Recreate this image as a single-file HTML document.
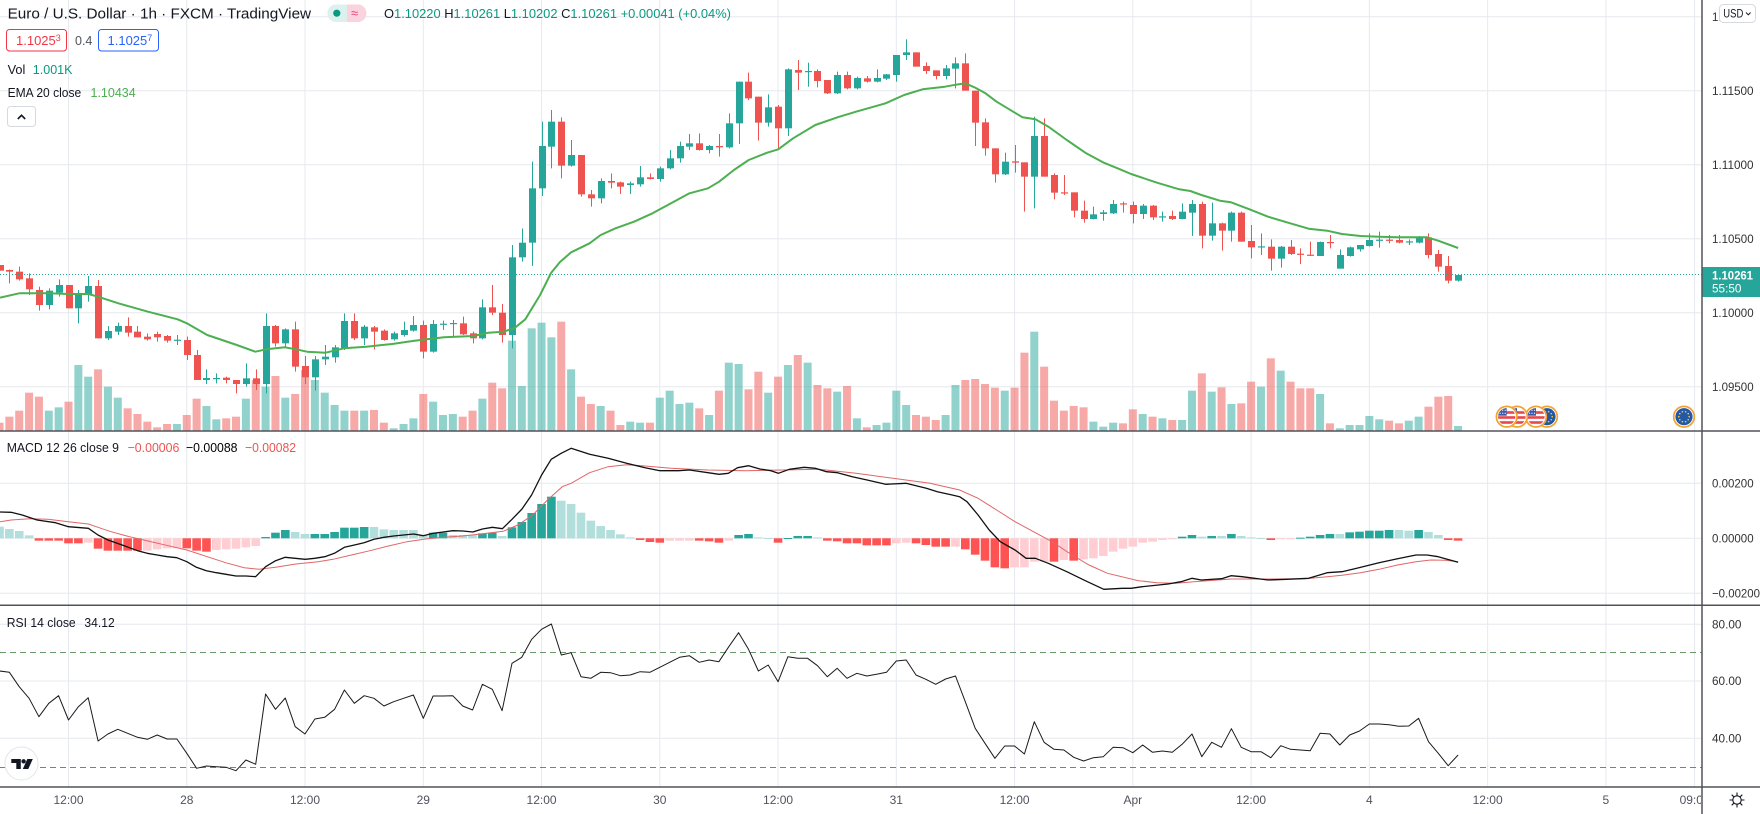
<!DOCTYPE html>
<html><head><meta charset="utf-8"><title>EURUSD 1h</title>
<style>
html,body{margin:0;padding:0;background:#fff}
body{width:1760px;height:814px;overflow:hidden}
svg{display:block}
text{font-family:"Liberation Sans",Arial,sans-serif}
</style></head><body>
<svg id="s" xmlns="http://www.w3.org/2000/svg" width="1760" height="814" viewBox="0 0 1760 814">
<defs>
<clipPath id="cp"><rect x="0" y="0" width="1702" height="430.5"/></clipPath>
<clipPath id="cm"><rect x="0" y="432" width="1702" height="172.5"/></clipPath>
<clipPath id="cr"><rect x="0" y="606" width="1702" height="180"/></clipPath>
<clipPath id="ct"><rect x="0" y="788" width="1701" height="26"/></clipPath>
<clipPath id="fc"><circle cx="0" cy="0" r="8.6"/></clipPath>
</defs>
<rect width="1760" height="814" fill="#fff"/>
<g id="grid" stroke="#e6e9ee" stroke-width="1"></g>
<g id="vol" clip-path="url(#cp)"></g>
<g id="cdl" clip-path="url(#cp)"></g>
<g id="ema" clip-path="url(#cp)"></g>
<line x1="0" y1="274.5" x2="1702" y2="274.5" stroke="#26a69a" stroke-width="1" stroke-dasharray="1 2"/>
<g id="ev"></g>
<g id="hist" clip-path="url(#cm)"></g>
<g id="macd" clip-path="url(#cm)"></g>
<line x1="0" y1="652.5" x2="1702" y2="652.5" stroke="#6a9a6a" stroke-width="1" stroke-dasharray="6 4"/>
<line x1="0" y1="767.5" x2="1702" y2="767.5" stroke="#c46060" stroke-width="1" stroke-dasharray="6 4"/>
<g id="rsi" clip-path="url(#cr)"></g>

<!-- TV logo -->
<g>
<circle cx="21.5" cy="763.5" r="16.5" fill="#fff" stroke="#e3e5ea" stroke-width="1"/>
<path d="M11.3 759 H20.8 V769 H16.3 V763 H11.3 Z" fill="#131722"/>
<circle cx="23.6" cy="761.3" r="2.2" fill="#131722"/>
<path d="M27.3 759 H32.8 L28.3 769 H22.8 Z" fill="#131722"/>
</g>

<!-- Top legend -->
<text x="7.6" y="18.5" font-size="15" fill="#131722" textLength="303.5" lengthAdjust="spacingAndGlyphs">Euro / U.S. Dollar · 1h · FXCM · TradingView</text>
<rect x="327.4" y="4.5" width="39" height="17.5" rx="8.7" fill="#dcf1ed"/>
<path d="M347 4.5 H357.7 A8.7 8.7 0 0 1 357.7 22 H347 Z" fill="#fbd3df"/>
<circle cx="336.8" cy="13.2" r="3.6" fill="#089981"/>
<text x="351" y="17.5" font-size="13" fill="#e0457b">≈</text>
<text x="384" y="18" font-size="13" textLength="347" lengthAdjust="spacingAndGlyphs"><tspan fill="#131722">O</tspan><tspan fill="#089981">1.10220</tspan><tspan fill="#131722"> H</tspan><tspan fill="#089981">1.10261</tspan><tspan fill="#131722"> L</tspan><tspan fill="#089981">1.10202</tspan><tspan fill="#131722"> C</tspan><tspan fill="#089981">1.10261 +0.00041 (+0.04%)</tspan></text>

<rect x="6.5" y="29.5" width="60" height="21.5" rx="3" fill="#fff" stroke="#f23645" stroke-width="1"/>
<text x="16" y="45" font-size="13" fill="#f23645">1.1025<tspan font-size="9" dy="-4">3</tspan></text>
<text x="75" y="45" font-size="12.5" fill="#50535e">0.4</text>
<rect x="98.5" y="29.5" width="60" height="21.5" rx="3" fill="#fff" stroke="#2962ff" stroke-width="1"/>
<text x="107.5" y="45" font-size="13" fill="#2962ff">1.1025<tspan font-size="9" dy="-4">7</tspan></text>

<text x="7.6" y="73.8" font-size="13" fill="#131722" textLength="17.7" lengthAdjust="spacingAndGlyphs">Vol</text>
<text x="32.8" y="73.8" font-size="13" fill="#089981" textLength="39.7" lengthAdjust="spacingAndGlyphs">1.001K</text>
<text x="7.6" y="97" font-size="13" fill="#131722" textLength="73.6" lengthAdjust="spacingAndGlyphs">EMA 20 close</text>
<text x="90.5" y="97" font-size="13" fill="#4caf50" textLength="45.2" lengthAdjust="spacingAndGlyphs">1.10434</text>
<rect x="7.5" y="106.5" width="28" height="20" rx="3" fill="#fff" stroke="#d6d9e0" stroke-width="1"/>
<path d="M17.8 119 L21.5 115.3 L25.2 119" stroke="#131722" stroke-width="1.6" fill="none"/>

<!-- MACD legend -->
<text x="6.7" y="452" font-size="13" fill="#131722" textLength="112.3" lengthAdjust="spacingAndGlyphs">MACD 12 26 close 9</text>
<text x="127.6" y="452" font-size="13" fill="#ef5350" textLength="51.8" lengthAdjust="spacingAndGlyphs">−0.00006</text>
<text x="186" y="452" font-size="13" fill="#000" textLength="51.5" lengthAdjust="spacingAndGlyphs">−0.00088</text>
<text x="245" y="452" font-size="13" fill="#ef5350" textLength="51" lengthAdjust="spacingAndGlyphs">−0.00082</text>
<!-- RSI legend -->
<text x="6.7" y="627" font-size="13" fill="#131722" textLength="69" lengthAdjust="spacingAndGlyphs">RSI 14 close</text>
<text x="84.4" y="627" font-size="13" fill="#131722" textLength="30.3" lengthAdjust="spacingAndGlyphs">34.12</text>

<!-- right axis area -->
<rect x="1702" y="0" width="58" height="814" fill="#fff"/>
<g font-size="12" fill="#333">
<text x="1712" y="21" textLength="41.6" lengthAdjust="spacingAndGlyphs">1.12000</text>
<text x="1712" y="95" textLength="41.6" lengthAdjust="spacingAndGlyphs">1.11500</text>
<text x="1712" y="169" textLength="41.6" lengthAdjust="spacingAndGlyphs">1.11000</text>
<text x="1712" y="243" textLength="41.6" lengthAdjust="spacingAndGlyphs">1.10500</text>
<text x="1712" y="317" textLength="41.6" lengthAdjust="spacingAndGlyphs">1.10000</text>
<text x="1712" y="391" textLength="41.6" lengthAdjust="spacingAndGlyphs">1.09500</text>
<text x="1712" y="487.5" textLength="41.6" lengthAdjust="spacingAndGlyphs">0.00200</text>
<text x="1712" y="542.5" textLength="41.6" lengthAdjust="spacingAndGlyphs">0.00000</text>
<text x="1712" y="597.5" textLength="48" lengthAdjust="spacingAndGlyphs">−0.00200</text>
<text x="1712" y="628.5" textLength="29.4" lengthAdjust="spacingAndGlyphs">80.00</text>
<text x="1712" y="685" textLength="29.4" lengthAdjust="spacingAndGlyphs">60.00</text>
<text x="1712" y="742.5" textLength="29.4" lengthAdjust="spacingAndGlyphs">40.00</text>
</g>
<rect x="1719.5" y="4.5" width="36" height="18" rx="4" fill="#fff" stroke="#d6d9e0" stroke-width="1"/>
<text x="1723.3" y="17.5" font-size="11.5" fill="#131722" textLength="20" lengthAdjust="spacingAndGlyphs">USD</text>
<path d="M1746 12.5 L1748.3 14.8 L1750.6 12.5" stroke="#131722" stroke-width="1" fill="none"/>
<rect x="1702" y="267" width="58" height="30" fill="#26a69a"/>
<text x="1712" y="279.5" font-size="12" font-weight="bold" fill="#fff" textLength="41" lengthAdjust="spacingAndGlyphs">1.10261</text>
<text x="1712" y="292.5" font-size="12" fill="#fff" textLength="29.4" lengthAdjust="spacingAndGlyphs">55:50</text>

<!-- time axis -->
<g id="tax" clip-path="url(#ct)" font-size="12" fill="#50535e" text-anchor="middle"></g>
<g transform="translate(1737,800)" stroke="#131722" stroke-width="1.1" fill="none">
<circle r="4.2"/>
<path d="M0 -7.5V-4.5M0 4.5V7.5M-7.5 0H-4.5M4.5 0H7.5M-5.3 -5.3L-3.2 -3.2M5.3 5.3L3.2 3.2M-5.3 5.3L-3.2 3.2M5.3 -5.3L3.2 -3.2"/>
</g>

<!-- separators -->
<g stroke="#50535b" stroke-width="1.5">
<line x1="0" y1="431" x2="1760" y2="431"/>
<line x1="0" y1="605.3" x2="1760" y2="605.3"/>
<line x1="0" y1="787" x2="1760" y2="787"/>
<line x1="1702" y1="0" x2="1702" y2="814"/>
</g>
</svg>
<script>
(function(){
const NS="http://www.w3.org/2000/svg";
function E(t,a,p){const e=document.createElementNS(NS,t);for(const k in a)e.setAttribute(k,a[k]);p.appendChild(e);return e;}
const $=id=>document.getElementById(id);
const X=k=>68.5+9.855*k;

// grid
const g=$('grid');
[16.7,90.7,164.7,238.7,312.7,386.7,483.3,538.3,593.3,624.3,681,738.3].forEach(y=>E('line',{x1:0,x2:1702,y1:y,y2:y},g));
const vx=[];for(let j=0;j<14;j++)vx.push(68.5+118.26*j);vx.push(1694.6);
vx.forEach(x=>E('line',{x1:x,x2:x,y1:0,y2:787},g));

// time labels
const tl=["12:00","28","12:00","29","12:00","30","12:00","31","12:00","Apr","12:00","4","12:00","5","09:00"];
const ta=$('tax');
tl.forEach((s,i)=>{const t=E('text',{x:vx[i],y:804},ta);t.textContent=s;});

// candles [k,color,bodyTop,bodyBot,high,low] (zoom units /3)
const C=[[-7,0,795,812,795,812],[-6,0,810,815,808,850],[-5,0,815,838,800,842],[-4,0,835,868,820,885],[-3,0,870,915,860,932],[-2,1,872,915,865,928],[-1,1,855,878,838,890],[0,0,855,925,855,925],[1,1,880,925,870,970],[2,1,858,885,828,905],[3,0,858,1015,840,1015],[4,1,993,1015,978,1020],[5,1,978,995,968,1005],[6,0,978,998,952,1010],[7,0,995,1012,978,1012],[8,0,1010,1018,1000,1022],[9,0,1002,1012,995,1025],[10,0,1008,1022,1005,1028],[11,1,1019,1021,1005,1035],[12,0,1020,1065,1010,1080],[13,0,1065,1140,1050,1140],[14,1,1134,1140,1108,1152],[15,1,1134,1137,1120,1150],[16,0,1133,1140,1130,1150],[17,0,1140,1152,1140,1180],[18,1,1135,1152,1090,1160],[19,0,1135,1152,1108,1170],[20,1,978,1152,940,1180],[21,0,978,1030,975,1040],[22,1,988,1030,985,1040],[23,0,988,1100,965,1115],[24,0,1098,1132,1068,1152],[25,1,1078,1132,1068,1172],[26,1,1070,1078,1035,1095],[27,1,1042,1072,1035,1088],[28,1,963,1045,940,1050],[29,0,963,1015,940,1020],[30,1,980,1015,975,1035],[31,0,982,995,978,1048],[32,0,992,1020,988,1022],[33,1,1000,1018,995,1022],[34,1,990,1005,965,1010],[35,1,975,992,948,995],[36,0,975,1055,962,1075],[37,1,972,1055,960,1058],[38,1,971,973,962,990],[39,1,969,971,960,1008],[40,0,970,1003,950,1005],[41,0,1000,1015,995,1030],[42,1,922,1015,898,1018],[43,0,922,938,855,945],[44,0,938,1005,912,1028],[45,1,772,1005,735,1045],[46,1,728,772,685,785],[47,1,565,728,485,798],[48,1,438,565,365,588],[49,1,365,440,330,505],[50,0,365,497,352,535],[51,1,465,497,420,500],
[52,0,465,583,465,590],[53,0,583,595,570,620],[54,1,543,595,535,610],[55,0,543,548,520,565],[56,0,547,560,545,582],[57,1,550,555,545,582],[58,1,532,553,498,560],[59,0,532,537,520,538],[60,1,505,537,500,545],[61,1,475,505,450,508],[62,1,438,475,425,488],[63,1,430,440,402,450],[64,0,430,450,400,452],[65,1,438,450,435,460],[66,0,438,442,402,470],[67,1,370,442,340,445],[68,1,245,370,245,432],[69,0,245,295,218,300],[70,0,290,368,290,422],[71,1,322,368,283,380],[72,0,320,385,315,445],[73,1,208,385,205,408],[74,0,210,218,180,270],[75,1,213,216,188,260],[76,0,213,243,208,262],[77,0,240,280,240,282],[78,1,225,280,215,282],[79,0,225,265,215,268],[80,1,234,265,230,268],[81,0,235,245,228,248],[82,1,234,245,208,247],[83,1,223,236,222,240],[84,1,165,225,165,245],[85,1,157,165,118,180],[86,0,157,200,157,200],[87,0,198,213,187,222],[88,0,211,228,211,238],[89,1,205,228,195,238],[90,1,190,206,172,265],[91,0,190,272,160,272],[92,0,272,368,272,438],[93,0,367,445,355,467],[94,0,445,523,445,548],[95,1,485,523,458,525],[96,0,484,488,435,518],[97,0,487,530,487,635],[98,1,408,530,350,625],[99,0,408,530,355,530],[100,0,525,578,520,598],[101,0,577,580,525,585],[102,0,577,632,577,652],[103,0,632,657,602,668],[104,1,643,657,620,658],[105,1,637,642,630,662],[106,1,612,640,600,642],[107,0,610,613,605,638],[108,0,615,642,605,670],[109,1,617,642,612,657],[110,0,617,652,615,660],[111,1,649,651,635,665],[112,0,648,657,632,660],[113,1,635,657,610,658],[114,1,612,638,600,708],[115,0,612,707,605,745],[116,1,670,707,608,722],[117,0,670,692,668,752],[118,1,638,692,635,725],[119,0,638,725,635,725],[120,0,723,742,675,775],[121,1,739,741,700,765],[122,0,740,776,718,812],[123,1,740,776,738,803],[124,0,740,762,720,765],[125,0,761,763,745,792],[126,0,764,766,725,768],[127,1,726,768,725,768],[128,0,726,728,705,745],[129,1,765,806,748,806],[130,1,742,768,740,770],[131,1,735,748,735,755],[132,1,720,738,700,740],[133,1,719,721,695,743],[134,0,719,721,705,730],[135,0,720,728,705,730],[136,1,724,726,718,735],[137,1,712,728,708,730],[138,0,712,765,700,775],[139,0,762,800,750,815],[140,0,798,842,768,850],[141,1,825,842,825,845]];

// volume [top, color] for k=-7..141
const V=[[1268,0],[1250,0],[1232,0],[1178,0],[1190,0],[1232,1],[1222,1],[1205,0],[1095,1],[1130,1],[1108,0],[1160,1],[1193,1],[1225,0],[1242,0],[1265,0],[1282,0],[1272,0],[1272,1],[1245,0],[1196,0],[1218,1],[1258,1],[1255,0],[1250,0],[1196,1],[1140,0],[1160,1],[1128,0],[1193,1],[1182,0],[1110,0],[1140,1],[1178,1],[1215,1],[1232,1],[1232,0],[1232,1],[1230,0],[1268,0],[1285,1],[1272,1],[1255,1],[1182,0],[1205,1],[1245,1],[1242,1],[1250,0],[1232,0],[1196,1],[1148,0],[1165,0],[1022,1],[1158,1],[985,1],[968,1],[1012,1],[965,0],[1108,1],
[1190,0],[1212,0],[1218,1],[1232,0],[1275,0],[1265,1],[1268,1],[1268,0],[1193,1],[1172,1],[1212,1],[1208,1],[1225,0],[1245,1],[1172,0],[1088,1],[1092,1],[1168,0],[1115,0],[1178,1],[1130,0],[1095,1],[1065,0],[1088,1],[1155,0],[1165,0],[1175,1],[1158,0],[1255,1],[1282,0],[1275,1],[1268,1],[1172,1],[1215,1],[1245,0],[1250,0],[1260,0],[1245,1],[1155,1],[1140,0],[1137,0],[1152,0],[1163,0],[1172,1],[1163,0],[1058,0],[995,1],[1100,0],[1202,0],[1232,0],[1218,0],[1222,0],[1265,1],[1280,1],[1268,1],
[1270,0],[1228,0],[1242,1],[1250,0],[1255,1],[1260,0],[1260,1],[1172,1],[1120,0],[1175,1],[1162,0],[1212,1],[1210,0],[1145,0],[1160,1],[1075,0],[1112,1],[1145,0],[1165,0],[1165,0],[1182,1],[1270,0],[1285,1],[1275,1],[1275,1],[1248,1],[1258,1],[1262,0],[1270,0],[1262,1],[1250,1],[1220,0],[1190,0],[1188,0],[1278,1]];

const vg=$('vol');
V.forEach(([t,c],i)=>{const x=X(i-7);const y=t/3;E('rect',{x:(x-4).toFixed(2),y:y.toFixed(2),width:8,height:(430.5-y).toFixed(2),fill:c?'rgba(38,166,154,0.5)':'rgba(239,83,80,0.5)'},vg);});

const cg=$('cdl');
C.forEach(([k,c,bt,bb,h,l])=>{const x=Math.round(X(k))+0.5;const col=c?'#26a69a':'#ef5350';
E('line',{x1:x,x2:x,y1:(h/3).toFixed(2),y2:(l/3).toFixed(2),stroke:col,'stroke-width':1},cg);
const t=bt/3,b=bb/3;E('rect',{x:x-3.5,y:t.toFixed(2),width:7,height:Math.max(1.2,b-t).toFixed(2),fill:col},cg);});

// EMA
const EM=[[0,297.7],[19.2,293.3],[29.6,293.3],[48.8,293.3],[68.4,294],[88.4,294],[98,296.7],[118.4,303.3],[148,311.7],[177.6,319.3],[186.8,323.3],[207.2,335],[236.8,345],[255.3,351.7],[266.4,349.3],[284.9,347.3],[296,349.3],[307,351.7],[325.6,352.7],[344,348.3],[366.3,346.7],[392.1,344],[414.4,340.7],[444,337.3],[473.5,336],[488.3,332.7],[503.1,331.7],[514.2,328.3],[525.3,319.3],[540.1,295],[551.2,272.7],[560,262],[571.1,252.3],[589.6,243.3],[600.7,235],[615.5,228.3],[634,221.7],[652.5,213.3],[671,203.3],[689.5,193.3],[708,188.3],[719.1,181.7],[733.9,170],[748.7,160],[767.2,152.7],[778.3,149.3],[793.1,138.3],[815.3,125],[837.5,117.3],[856,111.7],[885.6,103.3],[904.1,95],[922.6,89.3],[944.8,86.7],[955.9,84.7],[965.1,83.3],[974.4,87.3],[985.5,93.3],[996.6,101.7],[1022.5,117.3],[1035.4,119.3],[1048.4,126.7],[1066.8,140],[1085.3,152.7],[1103.8,162.7],[1120,169.3],[1131.1,174],[1157,182.7],[1179.2,189.3],[1190.3,191],[1201.4,195],[1219.9,200.7],[1231,202.3],[1249.5,209.3],[1268,216.7],[1290.2,223.3],[1308.7,228.7],[1327.2,230.7],[1342,234],[1360.5,236],[1379,236.7],[1397.5,237.3],[1416,237.3],[1427.1,237.3],[1438.2,240.7],[1458.1,248]];
E('polyline',{points:EM.map(p=>p[0]+','+p[1]).join(' '),fill:'none',stroke:'#4caf50','stroke-width':2,'stroke-linejoin':'round'},$('ema'));

// Histogram [colorIdx, top] k=-7..141
const H=[[1,290],[1,297],[1,303],[1,316],[2,332],[2,332],[2,332],[2,340],[2,340],[3,338],[2,356],[2,362],[2,362],[2,362],[2,362],[3,362],[3,358],[3,355],[3,355],[2,355],[2,362],[2,365],[3,360],[3,358],[3,356],[3,352],[3,348],[0,321],[0,308],[0,300],[1,306],[1,312],[0,312],[0,312],[0,306],[0,293],[0,293],[0,291],[1,291],[1,298],[1,300],[1,300],[1,300],[1,315],[0,308],[0,308],[1,315],[1,315],[1,315],[0,310],[0,308],[1,318],[0,292],[0,276],[0,249],[0,222],[0,200],[1,212],[1,222],
[1,248],[1,272],[1,288],[1,300],[1,313],[1,322],[2,330],[2,336],[2,338],[3,332],[3,332],[3,332],[2,332],[2,334],[2,338],[3,332],[0,315],[0,312],[1,322],[1,324],[2,338],[0,324],[0,318],[0,318],[1,322],[2,332],[2,334],[2,340],[2,340],[2,346],[2,346],[2,346],[3,340],[3,338],[2,340],[2,345],[2,350],[2,350],[3,350],[2,358],[2,374],[2,392],[2,412],[2,415],[3,412],[3,412],[3,395],[3,395],[2,395],[3,390],[2,392],[3,388],[3,385],[3,378],[3,365],
[3,356],[3,350],[3,338],[3,335],[3,330],[3,327],[0,320],[0,315],[1,320],[0,318],[1,318],[0,312],[1,318],[1,322],[1,324],[2,330],[3,326],[3,326],[0,323],[0,320],[0,315],[0,312],[1,312],[0,307],[0,305],[0,302],[0,302],[0,300],[1,300],[1,302],[0,300],[1,306],[1,315],[2,330],[2,332]];
const HC=['#26a69a','#b2dfdb','#ff5252','#ffcdd2'];
const hg=$('hist');
H.forEach(([c,t],i)=>{const x=X(i-7),y0=538.3,y=430+t/3;const top=Math.min(y0,y),h=Math.max(1,Math.abs(y-y0));E('rect',{x:(x-4.3).toFixed(2),y:top.toFixed(2),width:8.6,height:h.toFixed(2),fill:HC[c]},hg);});

// MACD lines
function seg(a,ox,lo,hi){return a.map(p=>[ox+p[0]/2.703,430+p[1]/3]).filter(p=>p[0]>=lo&&p[0]<hi);}
const MB9=[[0,246],[30,247],[60,255],[100,270],[150,278],[185,290],[239,295],[265,315],[292,330],[330,345],[372,362],[398,370],[425,375],[452,380],[478,383],[505,395],[531,412],[558,422],[585,428],[611,433],[638,438],[665,438],[691,440],[718,410],[745,392],[771,382],[798,385],[825,388],[851,385],[878,380],[904,370],[931,352],[958,345],[984,338],[1011,328],[1038,322],[1064,318],[1091,315],[1118,312],[1144,317],[1171,310],[1198,306],[1224,302],[1251,303],[1278,306],[1304,297],[1331,292],[1358,296],[1384,268],[1411,237],[1437,195],[1464,135],[1490,88],[1517,70],[1544,58],[1568,65]];
const MR9=[[0,275],[30,270],[80,266],[130,268],[185,275],[239,282],[265,292],[300,305],[350,320],[400,333],[450,346],[505,360],[560,380],[610,398],[660,413],[700,418],[745,412],[800,402],[860,395],[900,388],[950,375],[1000,362],[1050,348],[1100,335],[1150,327],[1200,322],[1250,318],[1300,312],[1360,304],[1400,285],[1440,255],[1480,210],[1520,170],[1568,138]];
const MB10=[[0,70],[30,55],[80,73],[130,85],[180,100],[230,113],[270,122],[320,122],[350,120],[400,128],[430,133],[455,130],[480,113],[510,107],[540,117],[570,122],[590,130],[620,118],[660,112],[690,115],[720,125],[750,128],[790,140],[830,150],[880,163],[935,160],[990,175],[1020,185],[1060,195],[1080,200],[1100,215],[1130,255],[1160,300],[1190,335],[1230,360],[1260,385],[1285,385],[1320,400],[1370,425],[1420,452],[1470,478],[1520,475],[1568,470]];
const MR10=[[0,185],[30,160],[80,128],[130,110],[180,104],[230,108],[300,115],[400,120],[500,122],[600,120],[700,118],[800,130],[900,145],[1000,160],[1080,180],[1130,205],[1180,240],[1230,275],[1280,305],[1330,335],[1380,372],[1430,405],[1480,430],[1530,448],[1568,455]];
const MB11=[[0,475],[30,475],[60,470],[130,462],[165,455],[195,445],[220,450],[275,446],[300,437],[330,440],[400,450],[450,448],[510,445],[560,428],[600,425],[640,415],[700,398],[750,386],[800,375],[830,375],[860,380],[914,397]];
const MR11=[[0,442],[50,452],[100,458],[150,460],[200,455],[300,447],[400,447],[500,446],[560,440],[600,436],[650,428],[700,418],[750,405],[800,395],[840,390],[880,391],[914,395]];
const mb=[...seg(MB9,0,-1,565),...seg(MB10,560,565,1125),...seg(MB11,1120,1125,3000)];
const mr=[...seg(MR9,0,-1,565),...seg(MR10,560,565,1125),...seg(MR11,1120,1125,3000)];
const mg=$('macd');
E('polyline',{points:mr.map(p=>p[0].toFixed(1)+','+p[1].toFixed(1)).join(' '),fill:'none',stroke:'#e06666','stroke-width':1},mg);
E('polyline',{points:mb.map(p=>p[0].toFixed(1)+','+p[1].toFixed(1)).join(' '),fill:'none',stroke:'#111','stroke-width':1.3,'stroke-linejoin':'round'},mg);

// RSI k=-7..141
const R=[723,727,770,805,860,820,797,870,830,803,933,912,898,910,922,928,915,927,927,970,1015,1008,1010,1012,1022,990,1003,792,838,804,890,912,867,862,838,780,820,797,805,828,815,805,795,865,798,798,797,828,840,763,778,842,700,682,628,598,582,675,668,
740,745,727,728,737,735,725,727,712,697,682,677,697,690,695,650,608,658,723,705,755,680,685,685,707,740,715,745,730,738,733,727,693,690,735,748,763,747,738,815,895,940,985,948,948,972,875,937,958,960,982,993,983,980,952,
953,968,945,967,963,967,943,912,980,937,952,896,952,965,965,983,947,958,960,962,910,912,945,915,903,882,882,884,889,888,865,935,970,1007,975];
E('polyline',{points:R.map((v,i)=>X(i-7).toFixed(1)+','+(430+v/3).toFixed(1)).join(' '),fill:'none',stroke:'#1a1a1a','stroke-width':1,'stroke-linejoin':'round'},$('rsi'));

// event icons
const ev=$('ev');
function ring(cx,cy){const gg=E('g',{transform:'translate('+cx+','+cy+')'},ev);E('circle',{r:10.3,fill:'#fff',stroke:'#f0a232','stroke-width':1.7},gg);return gg;}
function us(cx,cy){const gg=ring(cx,cy);const f=E('g',{'clip-path':'url(#fc)'},gg);
E('rect',{x:-9,y:-9,width:18,height:18,fill:'#fff'},f);
[-5.5,-0.5,4.5].forEach(y=>E('rect',{x:-9,y:y,width:18,height:2.6,fill:'#e5484d'},f));
E('rect',{x:-9,y:-9,width:9,height:8,fill:'#3d5aa8'},f);
for(let i=0;i<3;i++)for(let j=0;j<2;j++)E('circle',{cx:-6.5+i*2.5,cy:-6.5+j*3,r:0.6,fill:'#fff'},f);}
function eu(cx,cy){const gg=ring(cx,cy);E('circle',{r:8.6,fill:'#2458a6'},gg);
for(let i=0;i<10;i++){const a=i*Math.PI/5;E('circle',{cx:(5.2*Math.cos(a)).toFixed(2),cy:(5.2*Math.sin(a)).toFixed(2),r:0.8,fill:'#f5d33a'},gg);}}
eu(1684,416.7);
eu(1547,416.7);us(1536,416.7);us(1517,416.7);us(1506.7,416.7);
})();
</script>
</body></html>
